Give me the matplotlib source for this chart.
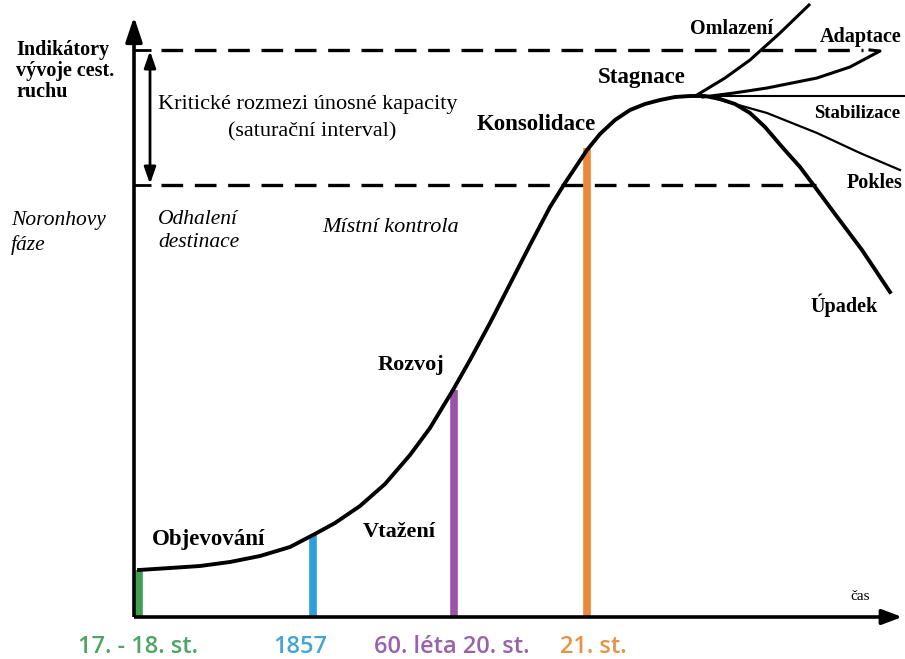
import matplotlib.pyplot as plt

# zivotni cyklus destinace (Butler) - hodnoty odectene z obrazku
# cas = vodorovna osa, ind = indikatory vyvoje cest. ruchu
cas = [5, 36, 66, 96, 126, 156, 179, 201, 226, 251, 276, 296, 319, 336, 356,
       376, 396, 416, 431, 453, 466, 481, 496, 511, 526, 541, 556, 571,
       586, 601, 616, 631, 649, 666, 681, 701, 728, 756]
ind = [47, 49, 51, 55, 61, 70, 82, 94, 111, 133, 162, 189, 227, 257, 294,
       333, 372, 410, 434, 467, 483, 497, 507, 513, 517, 520, 521, 521,
       518, 513, 504, 490, 469, 450, 430, 403, 367, 325]

omlazeni_t = [563, 591, 616, 646, 675]
omlazeni_v = [522, 539, 557, 584, 612]
adaptace_t = [569, 600, 633, 683, 716, 746, 736]
adaptace_v = [520, 524, 529, 539, 550, 566, 567]
stabilizace_t = [569, 771]
stabilizace_v = [521, 521]
pokles_t = [583, 633, 683, 726, 766]
pokles_v = [518, 504, 484, 464, 447]

kapacita_horni = 567
kapacita_dolni = 432

obdobi = ['17. - 18. st.', '1857', '60. léta 20. st.', '21. st.']
obdobi_t = [5, 179, 320, 453]
obdobi_v = [47, 82, 227, 469]
barvy = ['#3f9e52', '#2e9fd8', '#9a55a6', '#ec8838']
barvy_txt = ['#4ea565', '#43a5d4', '#9a62a8', '#e49348']

fig = plt.figure(figsize=(9.05, 6.59), dpi=100)
ax = fig.add_axes([0, 0, 1, 1])
ax.set_xlim(-134, 771)
ax.set_ylim(-42, 617)
ax.axis('off')

serif = 'Liberation Serif'

# osy
ax.plot([0, 0], [0, 585], color='black', lw=2.6, solid_capstyle='butt')
ax.plot([0, 760], [0, 0], color='black', lw=2.6, solid_capstyle='butt')
ax.annotate('', xy=(0, 603), xytext=(0, 575),
            arrowprops=dict(arrowstyle='-|>,head_length=1.5,head_width=0.5',
                            color='black', lw=2.6))
ax.annotate('', xy=(771, 0), xytext=(750, 0),
            arrowprops=dict(arrowstyle='-|>,head_length=1.2,head_width=0.45',
                            color='black', lw=2.6))

# kriticke rozmezi unosne kapacity
for v, konec in [(kapacita_horni, 729), (kapacita_dolni, 683)]:
    ax.plot([0, 17], [v, v], color='black', lw=2, solid_capstyle='butt')
    ax.plot([27, konec], [v, v], color='black', lw=2.4, ls=(0, (6.5, 3.5)))
ax.annotate('', xy=(16, kapacita_horni - 1), xytext=(16, kapacita_dolni + 1),
            arrowprops=dict(arrowstyle='<|-|>,head_length=1.0,head_width=0.35',
                            color='black', lw=2, shrinkA=0, shrinkB=0))

# barevne useky
for t, v, c in zip(obdobi_t, obdobi_v, barvy):
    ax.plot([t, t], [0, v], color=c, lw=5.5, solid_capstyle='butt', zorder=1)

# krivka + varianty vyvoje
ax.plot(cas, ind, color='black', lw=2.8, zorder=3, solid_joinstyle='round')
ax.plot(omlazeni_t, omlazeni_v, color='black', lw=2.2, zorder=3)
ax.plot(adaptace_t, adaptace_v, color='black', lw=2.2, zorder=3)
ax.plot(stabilizace_t, stabilizace_v, color='black', lw=1.5, zorder=3)
ax.plot(pokles_t, pokles_v, color='black', lw=1.6, zorder=3)

# popisky
ax.text(-118, 546, 'Indikátory\nvývoje cest.\nruchu', family=serif, weight='bold',
        fontsize=14.5, va='center', ha='left', linespacing=1.08)
ax.text(24, 512, 'Kritické rozmezi únosné kapacity', family=serif, fontsize=16,
        va='center', ha='left')
ax.text(178, 485, '(saturační interval)', family=serif, fontsize=16,
        va='center', ha='center')
ax.text(-123, 384, 'Noronhovy\nfáze', family=serif, style='italic', fontsize=15.5,
        va='center', ha='left', linespacing=1.3)
ax.text(24, 386, 'Odhalení\ndestinace', family=serif, style='italic', fontsize=15.5,
        va='center', ha='left', linespacing=1.3)
ax.text(188, 389, 'Místní kontrola', family=serif, style='italic', fontsize=16,
        va='center', ha='left')

faze = [('Objevování', 18, 78, 16.5), ('Vtažení', 229, 85, 16),
        ('Rozvoj', 244, 252, 16), ('Konsolidace', 343, 493, 16.5),
        ('Stagnace', 464, 539, 16.5), ('Omlazení', 556, 588, 14.5),
        ('Adaptace', 686, 580, 14.5), ('Stabilizace', 680, 504, 13.5),
        ('Pokles', 713, 434, 14.5), ('Úpadek', 676, 312, 14.5)]
for txt, t, v, fs in faze:
    ax.text(t, v, txt, family=serif, weight='bold', fontsize=fs,
            va='center', ha='left')
ax.text(716, 21, 'čas', family=serif, fontsize=11, va='center', ha='left')

obdobi_x = [-56, 139, 240, 426]
for txt, x, c in zip(obdobi, obdobi_x, barvy_txt):
    ax.text(x, -30, txt, family='Open Sans', weight='semibold', fontsize=17,
            color=c, va='center', ha='left')

fig.savefig('out.png', dpi=100)
